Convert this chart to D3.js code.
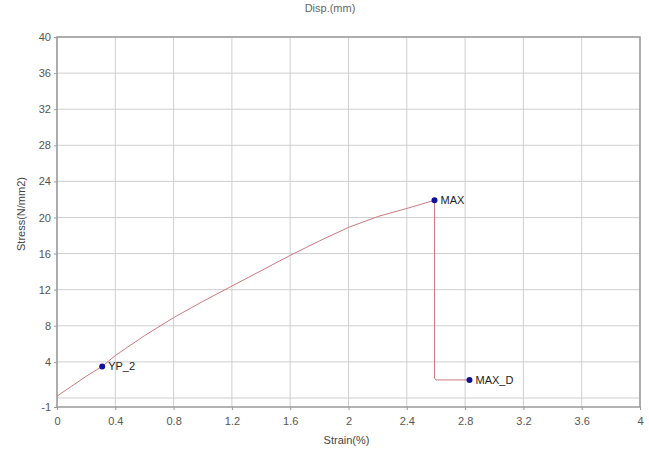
<!DOCTYPE html>
<html>
<head>
<meta charset="utf-8">
<script src="https://cdn.jsdelivr.net/npm/d3@7"></script>
<style>
  html, body { margin: 0; padding: 0; background: #fff; }
  svg { display: block; font-family: "Liberation Sans", Arial, sans-serif; }
</style>
</head>
<body>
<svg id="chart" width="649" height="455"></svg>
<script>
// stress-strain curve
const strain = [0, 0.1, 0.2, 0.31, 0.4, 0.6, 0.8, 1.0, 1.2, 1.4, 1.6, 1.8, 2.0, 2.2, 2.4, 2.59, 2.59, 2.6, 2.83];
const stress = [0.2, 1.3, 2.4, 3.5, 4.7, 6.9, 8.9, 10.7, 12.4, 14.1, 15.8, 17.4, 18.9, 20.1, 21.0, 21.9, 2.2, 2.0, 2.0];

const markNames  = ['YP_2', 'MAX', 'MAX_D'];
const markStrain = [0.31, 2.59, 2.83];
const markStress = [3.5, 21.9, 2.0];

const xTicks = [0, 0.4, 0.8, 1.2, 1.6, 2, 2.4, 2.8, 3.2, 3.6, 4];
const yTicks = [-1, 4, 8, 12, 16, 20, 24, 28, 32, 36, 40];
const yGrid  = [0, 4, 8, 12, 16, 20, 24, 28, 32, 36, 40];

const margin = { top: 37, right: 9, bottom: 48, left: 57 };
const W = 649, H = 455;
const innerW = W - margin.left - margin.right;
const innerH = H - margin.top - margin.bottom;

const svg = d3.select('#chart');
const g = svg.append('g').attr('transform', `translate(${margin.left},${margin.top})`);

const x = d3.scaleLinear().domain([0, 4]).range([0, innerW]);
const y = d3.scaleLinear().domain([-1, 40]).range([innerH, 0]);

// grid
g.append('g').selectAll('line').data(xTicks).join('line')
  .attr('x1', d => x(d)).attr('x2', d => x(d))
  .attr('y1', 0).attr('y2', innerH)
  .attr('stroke', '#cfcfcf').attr('stroke-width', 1);
g.append('g').selectAll('line').data(yGrid).join('line')
  .attr('x1', 0).attr('x2', innerW)
  .attr('y1', d => y(d)).attr('y2', d => y(d))
  .attr('stroke', '#cfcfcf').attr('stroke-width', 1);

// border
g.append('rect')
  .attr('x', 0).attr('y', 0).attr('width', innerW).attr('height', innerH)
  .attr('fill', 'none').attr('stroke', '#9a9a9a').attr('stroke-width', 1.5);

// axes (plain hyphen for negatives, like the source)
const fmt = d => String(d);
const xAxis = g.append('g').attr('transform', `translate(0,${innerH})`)
  .call(d3.axisBottom(x).tickValues(xTicks).tickSize(3).tickFormat(fmt));
const yAxis = g.append('g')
  .call(d3.axisLeft(y).tickValues(yTicks).tickSize(3).tickFormat(fmt));
[xAxis, yAxis].forEach(a => {
  a.select('.domain').remove();
  a.selectAll('line').attr('stroke', '#9a9a9a');
  a.selectAll('text').attr('fill', '#555').attr('font-size', 11)
    .attr('font-family', '"Liberation Sans", Arial, sans-serif');
});
xAxis.selectAll('text').attr('dy', '1.1em');

// curve
const pts = strain.map((s, i) => [s, stress[i]]);
g.append('path')
  .datum(pts)
  .attr('d', d3.line().x(d => x(d[0])).y(d => y(d[1])))
  .attr('fill', 'none').attr('stroke', '#cc7a80').attr('stroke-width', 1);

// markers
const marks = markNames.map((n, i) => ({ n, s: markStrain[i], v: markStress[i] }));
g.append('g').selectAll('circle').data(marks).join('circle')
  .attr('cx', d => x(d.s)).attr('cy', d => y(d.v)).attr('r', 3)
  .attr('fill', '#10109a');
g.append('g').selectAll('text').data(marks).join('text')
  .attr('x', d => x(d.s) + 6).attr('y', d => y(d.v) + 4)
  .attr('font-size', 11).attr('fill', '#222')
  .text(d => d.n);

// titles
svg.append('text')
  .attr('x', margin.left + innerW / 2 - 2).attr('y', 444)
  .attr('text-anchor', 'middle').attr('font-size', 11).attr('fill', '#444')
  .text('Strain(%)');
svg.append('text')
  .attr('transform', `translate(25,${margin.top + innerH / 2 - 8}) rotate(-90)`)
  .attr('text-anchor', 'middle').attr('font-size', 11).attr('fill', '#444')
  .text('Stress(N/mm2)');
svg.append('text')
  .attr('x', 330).attr('y', 12)
  .attr('text-anchor', 'middle').attr('font-size', 11).attr('fill', '#666')
  .text('Disp.(mm)');
</script>
</body>
</html>
